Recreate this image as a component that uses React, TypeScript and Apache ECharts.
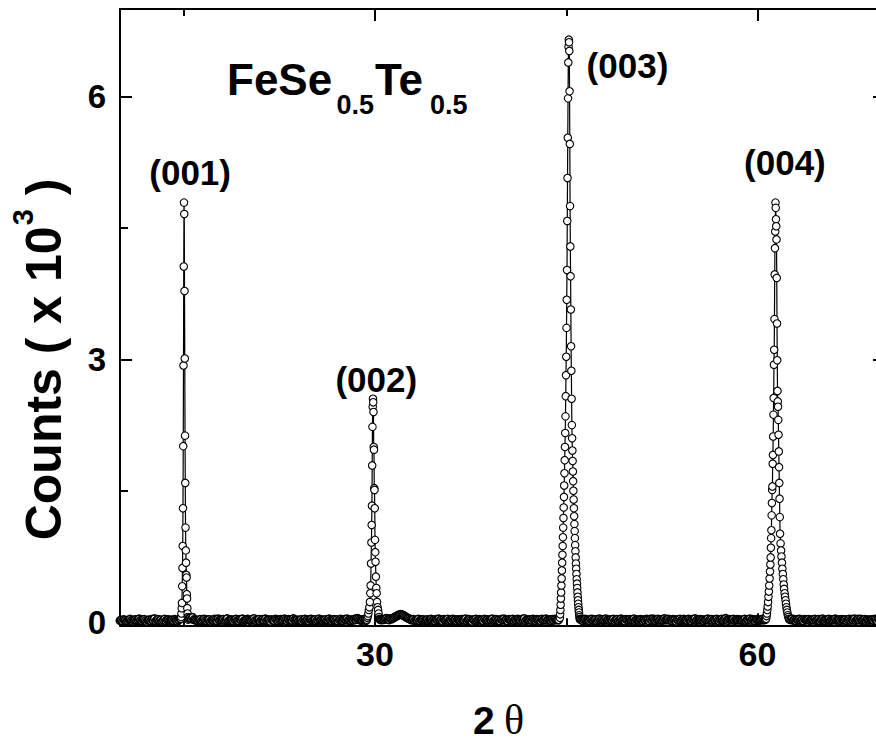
import React, { useEffect, useRef } from "react";
import * as echarts from "echarts";

// ---------- diffraction pattern (counts; plotted as counts / 1000) ----------
// Background scan: 2θ from 10.0° in steps of 0.1°, ten values per line = 1°
const baseStart = 10;
const baseStep = 0.1;

const baseline10 = [
  18, 25, 12, 30, 22, 8, 15, 28, 35, 20,
  10, 24, 31, 17, 26, 38, 21, 14, 29, 33,
  19, 6, 23, 27, 16, 32, 20, 41, 12, 25,
  33, 18, 28, 9, 22, 36, 15, 27, 30, 21,
  23, 27, 16, 32, 20, 12, 25, 40, 35, 55,
  20, 30, 25, 35, 45, 50, 38, 55, 30, 24,
  22, 18, 28, 34, 15, 26, 37, 21, 13, 29,
  31, 9, 24, 19, 35, 27, 16, 40, 22, 28,
  24, 33, 18, 27, 41, 16, 22, 30, 25, 12,
  29, 36, 20, 14, 32, 26, 38, 11, 23, 30,
];
const baseline20 = [
  35, 28, 19, 24, 31, 42, 20, 15, 27, 34,
  12, 26, 33, 21, 38, 17, 29, 24, 9, 31,
  22, 18, 36, 25, 14, 29, 32, 20, 26, 39,
  27, 15, 34, 23, 30, 19, 41, 25, 18, 28,
  17, 23, 30, 12, 27, 35, 21, 28, 16, 33,
  36, 20, 26, 31, 13, 24, 39, 22, 29, 18,
  25, 31, 19, 24, 38, 22, 15, 28, 34, 20,
  30, 11, 27, 35, 23, 18, 32, 26, 40, 21,
  26, 17, 30, 23, 36, 29, 45, 38, 30, 20,
  24, 33, 28, 19, 36, 27, 40, 30, 35, 28,
];
const baseline30 = [
  35, 28, 22, 40, 31, 26, 34, 30, 38, 45,
  33, 27, 41, 36, 45, 55, 62, 70, 78, 85,
  90, 88, 80, 72, 62, 52, 45, 38, 30, 25,
  33, 19, 27, 22, 36, 14, 29, 24, 31, 18,
  24, 30, 17, 26, 35, 21, 28, 14, 32, 25,
  38, 20, 27, 11, 33, 23, 29, 36, 16, 26,
  19, 37, 23, 29, 16, 31, 26, 20, 34, 27,
  22, 40, 15, 28, 33, 21, 9, 30, 25, 36,
  18, 25, 33, 22, 28, 15, 36, 24, 30, 19,
  31, 26, 39, 17, 24, 34, 20, 28, 13, 32,
];
const baseline40 = [
  27, 40, 21, 26, 13, 32, 28, 23, 35, 17,
  30, 22, 37, 25, 19, 33, 27, 42, 16, 29,
  29, 24, 31, 20, 37, 26, 18, 33, 25, 30,
  14, 35, 23, 28, 39, 21, 31, 26, 17, 34,
  22, 36, 28, 30, 25, 34, 21, 27, 38, 19,
  26, 31, 18, 35, 24, 29, 20, 37, 23, 28,
  24, 32, 26, 16, 29, 35, 22, 28, 18, 33,
  37, 20, 27, 31, 12, 25, 40, 23, 30, 19,
  25, 40, 23, 27, 20, 31, 24, 36, 15, 28,
  33, 17, 29, 38, 22, 26, 11, 34, 27, 21,
];
const baseline50 = [
  34, 22, 26, 39, 18, 30, 25, 21, 33, 27,
  16, 31, 24, 36, 28, 13, 35, 22, 40, 26,
  14, 29, 36, 23, 30, 19, 27, 42, 25, 31,
  37, 21, 28, 17, 33, 26, 10, 30, 24, 35,
  17, 26, 35, 22, 28, 20, 37, 24, 16, 32,
  28, 41, 19, 31, 25, 34, 22, 29, 15, 27,
  29, 38, 21, 26, 33, 18, 30, 24, 37, 21,
  12, 27, 35, 20, 30, 43, 24, 18, 32, 26,
  28, 35, 19, 27, 32, 23, 30, 25, 20, 28,
  36, 16, 29, 24, 39, 21, 33, 27, 14, 31,
];
const baseline60 = [
  33, 26, 22, 29, 35, 24, 31, 20, 27, 38,
  21, 30, 25, 34, 18, 27, 32, 23, 36, 26,
  22, 30, 17, 26, 34, 23, 29, 40, 21, 28,
  16, 32, 25, 37, 20, 28, 13, 34, 26, 30,
  33, 18, 25, 31, 24, 36, 20, 27, 33, 15,
  28, 39, 22, 17, 30, 25, 35, 19, 29, 24,
  29, 38, 22, 26, 30, 19, 34, 28, 23, 31,
  14, 27, 36, 21, 32, 25, 40, 18, 29, 35,
  24, 36, 20, 27, 33, 18, 30, 25, 22, 29,
  31, 20, 37, 26, 12, 33, 28, 23, 39, 27,
  26,
];

// Fine scans across the (00l) reflections: [2θ, counts]
const peak001: [number, number][] = [
  [14.78, 40], [14.8, 60], [14.82, 100], [14.84, 160], [14.86, 220], [14.88, 410],
  [14.9, 620], [14.92, 870], [14.94, 1300], [14.96, 2010], [14.98, 2930], [15.0, 4060],
  [15.02, 4790], [15.04, 4660], [15.06, 3780], [15.08, 3010], [15.1, 2130], [15.12, 1590],
  [15.14, 1080], [15.16, 820], [15.18, 680], [15.2, 540], [15.22, 510], [15.24, 320],
  [15.26, 270], [15.28, 160], [15.3, 100], [15.32, 60], [15.34, 30],
];
const peak002: [number, number][] = [
  [29.36, 30], [29.4, 50], [29.44, 70], [29.48, 100], [29.52, 140], [29.56, 170],
  [29.6, 230], [29.63, 330], [29.66, 420], [29.69, 670], [29.72, 910], [29.74, 1110],
  [29.76, 1330], [29.78, 1790], [29.8, 2230], [29.82, 2460], [29.84, 2550], [29.86, 2510],
  [29.88, 2400], [29.9, 2000], [29.92, 1970], [29.94, 1530], [29.96, 1510], [29.98, 1300],
  [30.0, 940], [30.02, 800], [30.04, 690], [30.07, 520], [30.1, 390], [30.13, 330],
  [30.16, 230], [30.2, 170], [30.24, 140], [30.28, 100], [30.32, 60], [30.36, 40],
];
const peak003: [number, number][] = [
  [44.5, 50], [44.52, 90], [44.54, 140], [44.56, 200], [44.58, 270], [44.6, 340],
  [44.62, 420], [44.64, 500], [44.66, 590], [44.68, 680], [44.7, 770], [44.72, 870],
  [44.74, 970], [44.76, 1080], [44.78, 1190], [44.8, 1310], [44.82, 1430], [44.84, 1560],
  [44.86, 1700], [44.88, 1850], [44.9, 2000], [44.92, 2160], [44.94, 2350], [44.96, 2580],
  [44.98, 2820], [45.0, 3030], [45.02, 3360], [45.04, 3680], [45.06, 4020], [45.08, 4580],
  [45.1, 5070], [45.12, 5530], [45.14, 5980], [45.16, 6390], [45.18, 6570], [45.2, 6650],
  [45.22, 6620], [45.24, 6520], [45.26, 6060], [45.28, 5460], [45.3, 4750], [45.32, 4290],
  [45.34, 3950], [45.36, 3570], [45.38, 3150], [45.4, 2870], [45.42, 2550], [45.44, 2250],
  [45.46, 2100], [45.48, 1960], [45.5, 1840], [45.52, 1720], [45.54, 1610], [45.56, 1500],
  [45.58, 1400], [45.6, 1300], [45.62, 1210], [45.64, 1120], [45.66, 1040], [45.68, 960],
  [45.7, 880], [45.72, 810], [45.74, 740], [45.76, 670], [45.78, 610], [45.8, 550],
  [45.82, 490], [45.84, 440], [45.86, 390], [45.88, 340], [45.9, 290], [45.92, 250],
  [45.94, 210], [45.96, 170], [45.98, 140], [46.0, 110], [46.02, 80], [46.04, 60], [46.06, 40],
];
const peak004: [number, number][] = [
  [60.68, 40], [60.71, 70], [60.74, 100], [60.77, 140], [60.8, 180], [60.83, 230],
  [60.86, 290], [60.89, 350], [60.92, 420], [60.95, 500], [60.98, 580], [61.01, 660],
  [61.03, 740], [61.05, 850], [61.07, 960], [61.09, 1050], [61.11, 1220], [61.13, 1360],
  [61.15, 1510], [61.17, 1550], [61.19, 1810], [61.21, 1910], [61.23, 2120], [61.25, 2370],
  [61.27, 2560], [61.29, 2940], [61.31, 3110], [61.33, 3460], [61.35, 3970], [61.37, 4270],
  [61.39, 4460], [61.41, 4790], [61.43, 4730], [61.45, 4600], [61.47, 4520], [61.49, 4370],
  [61.51, 3930], [61.53, 3410], [61.55, 2990], [61.57, 2640], [61.59, 2520], [61.61, 2460],
  [61.63, 2310], [61.65, 2140], [61.67, 1950], [61.69, 1770], [61.71, 1590], [61.73, 1410],
  [61.75, 1200], [61.77, 1010], [61.81, 900], [61.85, 820], [61.88, 750], [61.92, 680],
  [61.95, 610], [61.99, 550], [62.02, 490], [62.06, 430], [62.09, 380], [62.13, 330],
  [62.16, 290], [62.2, 250], [62.23, 210], [62.27, 170], [62.3, 140], [62.34, 110],
  [62.38, 80], [62.42, 60], [62.46, 40], [62.5, 30],
];

// Reflection labels: text, 2θ, height (×10³) of the label centre
const peakLabelText = ["(001)", "(002)", "(003)", "(004)"];
const peakLabelTheta = [15.5, 30.1, 49.8, 62.15];
const peakLabelHeight = [5.13, 2.77, 6.36, 5.25];

// Axis ticks
const xMajorTicks = [30, 60];
const xMinorTicks = [15, 45];
const yMajorTicks = [0, 3, 6];
const yMinorTicks = [1.5, 4.5];

const SANS = '"Liberation Sans", Arial, Helvetica, sans-serif';
const SERIF = '"Liberation Serif", "Times New Roman", Times, serif';

type Pt = { value: [number, number]; itemStyle?: { borderWidth: number } };

function buildPattern(): Pt[] {
  const peaks = [peak001, peak002, peak003, peak004];
  const windows = peaks.map((p) => [p[0][0], p[p.length - 1][0]]);
  const background = [
    ...baseline10, ...baseline20, ...baseline30,
    ...baseline40, ...baseline50, ...baseline60,
  ];
  const pts: Pt[] = [];
  background.forEach((c, i) => {
    const t = Math.round((baseStart + i * baseStep) * 100) / 100;
    if (windows.some(([a, b]) => t >= a && t <= b)) return;
    // dense background markers: slightly heavier outline
    pts.push({ value: [t, c / 1000], itemStyle: { borderWidth: 1.6 } });
  });
  peaks.forEach((p) => p.forEach(([t, c]) => pts.push({ value: [t, c / 1000] })));
  pts.sort((a, b) => a.value[0] - b.value[0]);
  return pts;
}

function measure(text: string, font: string): number {
  const ctx = document.createElement("canvas").getContext("2d");
  if (!ctx) return text.length * 0.55 * 40;
  ctx.font = font;
  return ctx.measureText(text).width;
}

function label(text: string, x: number, y: number, size: number, family = SANS, weight = "bold") {
  return {
    type: "text",
    x,
    y,
    silent: true,
    style: {
      text,
      fontSize: size,
      fontWeight: weight,
      fontFamily: family,
      fill: "#000",
      align: "left",
      textAlign: "left",
      verticalAlign: "middle",
      textVerticalAlign: "middle",
    },
  };
}

const tickLine = { color: "#000", width: 2 };

function xAxisDef(position: "top" | "bottom", ticks: number[], len: number, showLine: boolean, showLabels: boolean) {
  return {
    type: "value",
    position,
    min: 10,
    max: 70,
    axisLine: { show: showLine, onZero: false, lineStyle: { color: "#000", width: 2 } },
    axisTick: { show: true, inside: true, length: len, lineStyle: tickLine, customValues: ticks },
    axisLabel: {
      show: showLabels,
      customValues: ticks,
      margin: 12,
      fontSize: 34,
      fontWeight: "bold",
      fontFamily: SANS,
      color: "#000",
    },
    splitLine: { show: false },
  };
}

function yAxisDef(position: "left" | "right", ticks: number[], len: number, showLine: boolean, showLabels: boolean) {
  return {
    type: "value",
    position,
    min: -0.035,
    max: 7,
    axisLine: { show: showLine, onZero: false, lineStyle: { color: "#000", width: 2 } },
    axisTick: { show: true, inside: true, length: len, lineStyle: tickLine, customValues: ticks },
    axisLabel: {
      show: showLabels,
      customValues: ticks,
      margin: 14,
      fontSize: 33,
      fontWeight: "bold",
      fontFamily: SANS,
      color: "#000",
    },
    splitLine: { show: false },
  };
}

export default function App() {
  const ref = useRef<HTMLDivElement>(null);

  useEffect(() => {
    if (!ref.current) return;
    const chart = echarts.init(ref.current, null, { renderer: "svg" });

    // Vertical axis title: "Counts ( x 10³ )"
    const mainFont = `bold 50px ${SANS}`;
    const supFont = `bold 29px ${SANS}`;
    const t1 = "Counts ( x 10";
    const t2 = "3";
    const t3 = " )";
    const w1 = measure(t1, mainFont);
    const w2 = measure(t2, supFont);
    const w3 = measure(t3, mainFont);
    const total = w1 + w2 + w3;
    const x0 = -total / 2;

    const graphic = [
      {
        type: "group",
        x: 43.5,
        y: 360,
        rotation: Math.PI / 2,
        children: [
          label(t1, x0, 0, 50),
          label(t2, x0 + w1 + 1, -20.5, 29),
          label(t3, x0 + w1 + w2 + 1, 0, 50),
        ],
      },
      // Horizontal axis title: "2 θ"
      label("2", 473, 720.5, 39),
      label("θ", 504, 719.5, 42, SERIF, "normal"),
      // Compound formula FeSe0.5Te0.5
      label("FeSe", 227, 79.8, 44),
      label("0.5", 336.5, 104.6, 27),
      label("Te", 375, 79.8, 44),
      label("0.5", 430, 104.6, 27),
    ];

    chart.setOption({
      animation: false,
      backgroundColor: "#fff",
      grid: { left: 120, right: 15, top: 9, bottom: 122.7, containLabel: false },
      xAxis: [
        xAxisDef("bottom", xMajorTicks, 12, true, true),
        xAxisDef("bottom", xMinorTicks, 7, false, false),
        xAxisDef("top", xMajorTicks, 12, true, false),
        xAxisDef("top", xMinorTicks, 7, false, false),
      ],
      yAxis: [
        yAxisDef("left", yMajorTicks, 12, true, true),
        yAxisDef("left", yMinorTicks, 8, false, false),
        yAxisDef("right", yMajorTicks, 12, true, false),
        yAxisDef("right", yMinorTicks, 8, false, false),
      ],
      series: [
        {
          type: "line",
          xAxisIndex: 0,
          yAxisIndex: 0,
          data: buildPattern(),
          symbol: "circle",
          symbolSize: 7.5,
          showSymbol: true,
          showAllSymbol: true,
          clip: false,
          silent: true,
          lineStyle: { color: "#000", width: 1.2 },
          itemStyle: { color: "#fff", borderColor: "#000", borderWidth: 1.1 },
          emphasis: { disabled: true },
        },
        {
          type: "scatter",
          xAxisIndex: 0,
          yAxisIndex: 0,
          symbolSize: 0,
          silent: true,
          itemStyle: { opacity: 1 },
          data: peakLabelText.map((name, i) => ({
            name,
            value: [peakLabelTheta[i], peakLabelHeight[i]],
          })),
          label: {
            show: true,
            position: "inside",
            formatter: "{b}",
            fontSize: 35,
            fontWeight: "bold",
            fontFamily: SANS,
            color: "#000",
            opacity: 1,
          },
        },
      ],
      graphic,
    });

    return () => chart.dispose();
  }, []);

  return (
    <div style={{ position: "absolute", left: 0, top: 0, width: 876, height: 748, overflow: "hidden", background: "#fff" }}>
      <div ref={ref} style={{ width: 900, height: 748 }} />
    </div>
  );
}
